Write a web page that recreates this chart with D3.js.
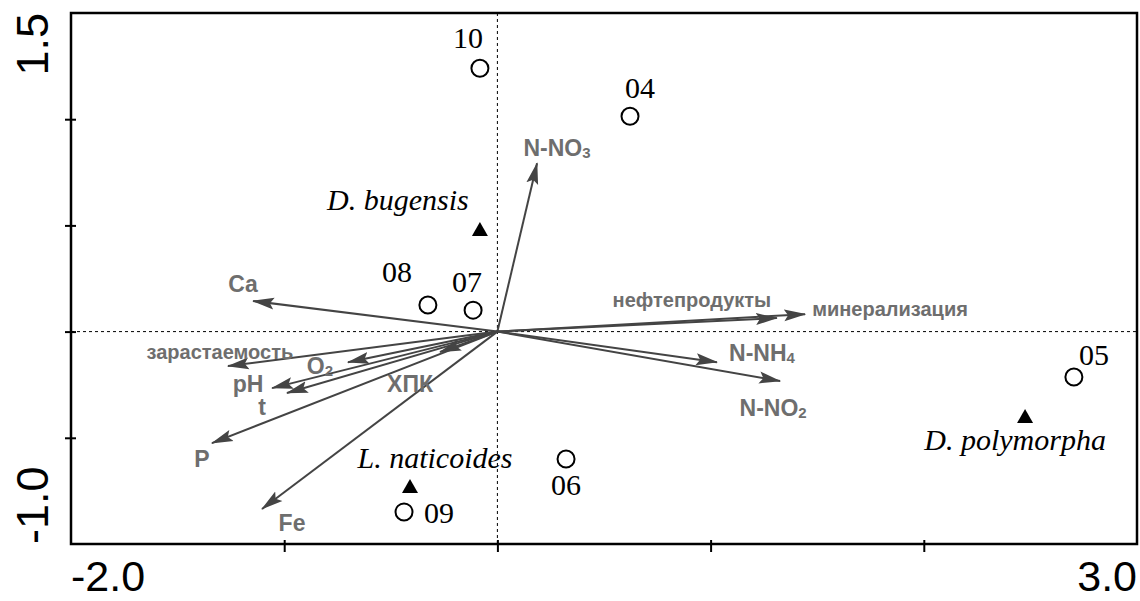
<!DOCTYPE html>
<html>
<head>
<meta charset="utf-8">
<script src="https://cdn.jsdelivr.net/npm/d3@7"></script>
<style>
  html, body { margin: 0; padding: 0; background: #fff; }
  svg { display: block; }
</style>
</head>
<body>
<div id="chart"></div>
<script>
// axis ranges of the ordination diagram
const xDomain = [-2.0, 3.0];
const yDomain = [-1.0, 1.5];
const xTicks = [-1, 0, 1, 2];
const yTicks = [-0.5, 0, 0.5, 1.0];
const xEndLabels = ['-2.0', '3.0'];
const yEndLabels = ['-1.0', '1.5'];

// sites (axis 1, axis 2)
const siteNames = ['10', '04', '08', '07', '06', '09', '05'];
const siteX = [-0.082, 0.622, -0.326, -0.114, 0.322, -0.438, 2.704];
const siteY = [1.240, 1.014, 0.125, 0.101, -0.600, -0.849, -0.214];

// species
const speciesNames = ['D. bugensis', 'L. naticoides', 'D. polymorpha'];
const speciesX = [-0.082, -0.410, 2.475];
const speciesY = [0.478, -0.732, -0.402];

// environmental variables (arrow tips)
const envNames = ['Ca', 'зарастаемость', 'O2', 'pH', 't', 'ХПК', 'P', 'Fe',
                  'нефтепродукты', 'минерализация', 'N-NH4', 'N-NO2', 'N-NO3'];
const envX = [-1.146, -1.264, -0.701, -1.057, -0.987, -0.269, -1.339, -1.104,
              1.311, 1.443, 1.030, 1.326, 0.186];
const envY = [0.144, -0.162, -0.144, -0.266, -0.289, -0.096, -0.525, -0.835,
              0.064, 0.082, -0.144, -0.233, 0.793];

// label placement (pixels relative to the mark)
const envLabelOffset = {
    'Ca': [-10, -17], 'зарастаемость': [-8, -14], 'O2': [-28, 4], 'pH': [-24, -4],
    't': [-25, 14], 'ХПК': [-30, 32], 'P': [-10, 16], 'Fe': [30, 14],
    'нефтепродукты': [-85, -18], 'минерализация': [85, -5], 'N-NH4': [45, -9],
    'N-NO2': [-7, 27], 'N-NO3': [20, -15]
};
const longLabels = ['зарастаемость', 'нефтепродукты', 'минерализация'];
const siteLabelOffset = {
    '10': [-12, -20], '04': [10, -18], '08': [-31, -23], '07': [-6, -18],
    '06': [0, 36], '09': [35, 11], '05': [20, -12]
};
const speciesLabelOffset = {
    'D. bugensis': [-82, -20], 'L. naticoides': [25, -19], 'D. polymorpha': [-10, 33]
};

const width = 1140, height = 601;
const plot = {left: 71, right: 1137, top: 13, bottom: 544};

const svg = d3.select('#chart').append('svg')
    .attr('width', width)
    .attr('height', height);

const x = d3.scaleLinear().domain(xDomain).range([plot.left, plot.right]);
const y = d3.scaleLinear().domain(yDomain).range([plot.bottom, plot.top]);

// dashed zero lines
svg.append('line')
    .attr('x1', plot.left).attr('x2', plot.right)
    .attr('y1', y(0)).attr('y2', y(0))
    .attr('stroke', '#000').attr('stroke-width', 1)
    .attr('stroke-dasharray', '3,3');
svg.append('line')
    .attr('x1', x(0)).attr('x2', x(0))
    .attr('y1', plot.top).attr('y2', plot.bottom)
    .attr('stroke', '#000').attr('stroke-width', 1)
    .attr('stroke-dasharray', '3,3');

// frame
svg.append('rect')
    .attr('x', plot.left).attr('y', plot.top)
    .attr('width', plot.right - plot.left)
    .attr('height', plot.bottom - plot.top)
    .attr('fill', 'none')
    .attr('stroke', '#000').attr('stroke-width', 2.5);

// ticks crossing the axis lines
const xAxis = svg.append('g')
    .attr('transform', 'translate(0,' + plot.bottom + ')')
    .call(d3.axisBottom(x).tickValues(xTicks).tickSize(8).tickFormat(''));
xAxis.select('.domain').remove();
xAxis.selectAll('.tick line').attr('y1', -4).attr('stroke-width', 2);

const yAxis = svg.append('g')
    .attr('transform', 'translate(' + plot.left + ',0)')
    .call(d3.axisLeft(y).tickValues(yTicks).tickSize(6).tickFormat(''));
yAxis.select('.domain').remove();
yAxis.selectAll('.tick line').attr('x1', 5).attr('stroke-width', 2);

// end labels
const axisFont = '"Liberation Sans", Arial, sans-serif';
svg.append('text')
    .attr('x', x(xDomain[0])).attr('y', 591)
    .attr('text-anchor', 'start')
    .style('font-family', axisFont).style('font-size', '43px')
    .text(xEndLabels[0]);
svg.append('text')
    .attr('x', x(xDomain[1])).attr('y', 591)
    .attr('text-anchor', 'end')
    .style('font-family', axisFont).style('font-size', '43px')
    .text(xEndLabels[1]);
svg.append('text')
    .attr('transform', 'translate(48,' + y(yDomain[0]) + ') rotate(-90)')
    .attr('text-anchor', 'start')
    .style('font-family', axisFont).style('font-size', '45px')
    .text(yEndLabels[0]);
svg.append('text')
    .attr('transform', 'translate(48,' + y(yDomain[1]) + ') rotate(-90)')
    .attr('text-anchor', 'end')
    .style('font-family', axisFont).style('font-size', '45px')
    .text(yEndLabels[1]);

// arrow marker
const arrowColor = '#444';
svg.append('defs').append('marker')
    .attr('id', 'head')
    .attr('markerUnits', 'userSpaceOnUse')
    .attr('viewBox', '0 -7 22 14')
    .attr('refX', 21).attr('refY', 0)
    .attr('markerWidth', 22).attr('markerHeight', 14)
    .attr('orient', 'auto')
    .append('path')
    .attr('d', 'M0,-6L22,0L0,6L4,0Z')
    .attr('fill', arrowColor);

const env = envNames.map((n, i) => ({name: n, x: envX[i], y: envY[i]}));

svg.append('g').selectAll('line')
    .data(env)
    .join('line')
    .attr('x1', x(0)).attr('y1', y(0))
    .attr('x2', d => x(d.x)).attr('y2', d => y(d.y))
    .attr('stroke', arrowColor)
    .attr('stroke-width', 2)
    .attr('marker-end', 'url(#head)');

// environmental labels with subscripts
const envText = svg.append('g').selectAll('text')
    .data(env)
    .join('text')
    .attr('x', d => x(d.x) + envLabelOffset[d.name][0])
    .attr('y', d => y(d.y) + envLabelOffset[d.name][1])
    .attr('text-anchor', 'middle')
    .attr('dominant-baseline', 'central')
    .attr('fill', '#6e6e6e')
    .style('font-family', axisFont)
    .style('font-weight', 'bold')
    .style('font-size', d => longLabels.includes(d.name) ? '20px' : '23px');

envText.each(function(d) {
    const t = d3.select(this);
    const m = d.name.match(/^(.*?)(\d)$/);
    if (m && d.name !== 'pH') {
        t.append('tspan').text(m[1]);
        t.append('tspan')
            .attr('dy', 4)
            .style('font-size', '15px')
            .text(m[2]);
    } else {
        t.text(d.name);
    }
});

// sites
const serif = '"Liberation Serif", "Times New Roman", serif';
const sites = siteNames.map((n, i) => ({name: n, x: siteX[i], y: siteY[i]}));
svg.append('g').selectAll('circle')
    .data(sites)
    .join('circle')
    .attr('cx', d => x(d.x)).attr('cy', d => y(d.y))
    .attr('r', 8.5)
    .attr('fill', '#fff')
    .attr('stroke', '#000')
    .attr('stroke-width', 2);
svg.append('g').selectAll('text')
    .data(sites)
    .join('text')
    .attr('x', d => x(d.x) + siteLabelOffset[d.name][0])
    .attr('y', d => y(d.y) + siteLabelOffset[d.name][1])
    .attr('text-anchor', 'middle')
    .style('font-family', serif)
    .style('font-size', '30px')
    .text(d => d.name);

// species
const species = speciesNames.map((n, i) => ({name: n, x: speciesX[i], y: speciesY[i]}));
svg.append('g').selectAll('path')
    .data(species)
    .join('path')
    .attr('d', d => {
        const cx = x(d.x), cy = y(d.y);
        return 'M' + cx + ',' + (cy - 8) + 'L' + (cx + 8) + ',' + (cy + 6) +
               'L' + (cx - 8) + ',' + (cy + 6) + 'Z';
    })
    .attr('fill', '#000');
svg.append('g').selectAll('text')
    .data(species)
    .join('text')
    .attr('x', d => x(d.x) + speciesLabelOffset[d.name][0])
    .attr('y', d => y(d.y) + speciesLabelOffset[d.name][1])
    .attr('text-anchor', 'middle')
    .style('font-family', serif)
    .style('font-style', 'italic')
    .style('font-size', '30px')
    .text(d => d.name);
</script>
</body>
</html>
